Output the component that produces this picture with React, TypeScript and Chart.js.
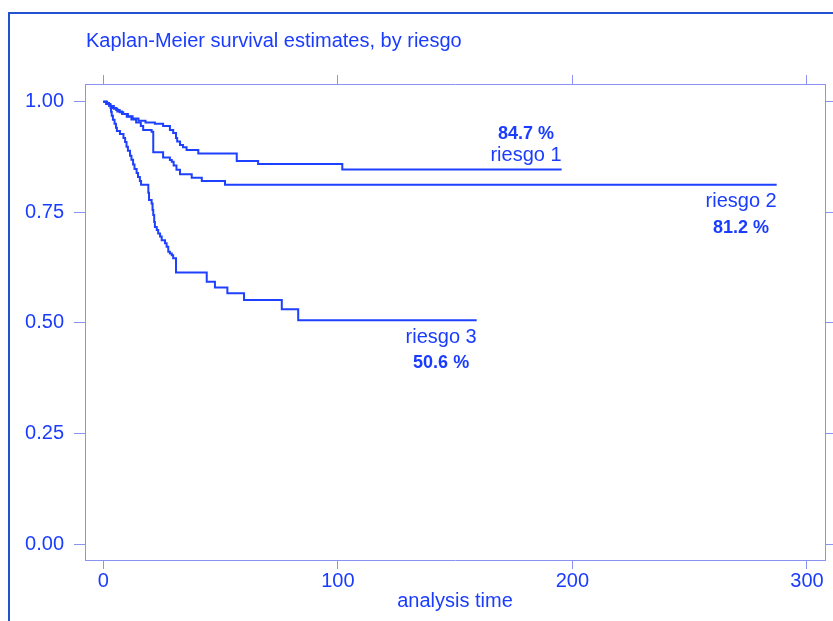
import React, { useEffect, useRef } from 'react';
import { Chart, registerables } from 'chart.js';

Chart.register(...registerables);

const TITLE = 'Kaplan-Meier survival estimates, by riesgo';
const X_TITLE = 'analysis time';
const X_TICKS = [0, 100, 200, 300];
const Y_TICKS = [0, 0.25, 0.5, 0.75, 1];
const X_MIN = -7.8;
const X_MAX = 307.7;
const Y_MIN = -0.036;
const Y_MAX = 1.04;

const GROUPS = ['riesgo 1', 'riesgo 2', 'riesgo 3'];

const TIME_1 = [0, 1.2, 2.5, 3.8, 5.5, 7, 8.5, 10.5, 12.5, 15, 18, 22, 25.5, 28.4, 29.8, 31, 31.5, 32.7, 34, 35.5, 40.5, 56.9, 66, 101.9, 195.4];
const SURV_1 = [1, 0.995, 0.99, 0.986, 0.981, 0.976, 0.972, 0.967, 0.962, 0.957, 0.953, 0.95, 0.945, 0.936, 0.929, 0.918, 0.91, 0.902, 0.897, 0.891, 0.883, 0.866, 0.859, 0.847, 0.847];

const TIME_2 = [0, 1.5, 3, 4.5, 6, 8, 10, 12, 14, 16, 17, 20.6, 21.3, 25.5, 28.4, 29.2, 30, 31.2, 32.7, 37.7, 42, 51.9, 287.1];
const SURV_2 = [1, 0.995, 0.99, 0.984, 0.978, 0.972, 0.966, 0.96, 0.953, 0.945, 0.936, 0.932, 0.886, 0.874, 0.868, 0.864, 0.856, 0.846, 0.836, 0.828, 0.821, 0.812, 0.812];

const TIME_3 = [0, 1.6, 2.4, 3.1, 3.3, 3.6, 4.1, 4.8, 5.4, 5.8, 7.1, 8.6, 9.3, 9.9, 10.5, 11.4, 12.0, 12.7, 13.3, 14.2, 14.8, 15.6, 16.1, 19.2, 19.5, 20.6, 21.0, 21.3, 21.7, 22.0, 22.8, 23.4, 24.2, 24.9, 26.3, 27.0, 27.7, 28.4, 29.2, 29.8, 31.0, 44.1, 47.6, 52.9, 60.0, 76.1, 83.1, 159.2];
const SURV_3 = [1, 0.997, 0.993, 0.986, 0.977, 0.968, 0.959, 0.95, 0.941, 0.934, 0.927, 0.918, 0.909, 0.898, 0.889, 0.878, 0.869, 0.858, 0.848, 0.839, 0.83, 0.821, 0.812, 0.794, 0.778, 0.77, 0.755, 0.744, 0.728, 0.717, 0.71, 0.702, 0.695, 0.687, 0.68, 0.672, 0.661, 0.657, 0.653, 0.646, 0.614, 0.593, 0.58, 0.567, 0.552, 0.531, 0.506, 0.506];

const TIMES = [TIME_1, TIME_2, TIME_3];
const SURVS = [SURV_1, SURV_2, SURV_3];
// label placement: 'above' or 'below' the end of each curve
const LABEL_SIDE = ['above', 'below', 'below'];

const TEXT = '#1a3cff';
const LINE = '#1e40ff';
const AXIS = '#8a92f4';
const FRAME = '#2352d0';
const FONT = "'Liberation Sans', Arial, sans-serif";

const decoPlugin = {
  id: 'deco',
  afterDraw(chart: any) {
    const ctx = chart.ctx;
    ctx.save();
    ctx.strokeStyle = FRAME;
    ctx.lineWidth = 2;
    ctx.strokeRect(9, 13, 900, 700);
    ctx.fillStyle = TEXT;
    ctx.font = `20px ${FONT}`;
    ctx.textAlign = 'left';
    ctx.textBaseline = 'alphabetic';
    ctx.fillText(TITLE, 86, 47);

    const xs = chart.scales.x;
    const ys = chart.scales.y;
    GROUPS.forEach((name, i) => {
      const t = TIMES[i];
      const s = SURVS[i];
      const last = s[s.length - 1];
      const px = xs.getPixelForValue(t[t.length - 1]);
      const py = ys.getPixelForValue(last);
      const pct = (last * 100).toFixed(1) + ' %';
      ctx.font = `20px ${FONT}`;
      const w = ctx.measureText(name).width;
      ctx.textAlign = 'right';
      ctx.textBaseline = 'middle';
      const above = LABEL_SIDE[i] === 'above';
      ctx.fillText(name, px, py + (above ? -14 : 17));
      ctx.font = `bold 18px ${FONT}`;
      ctx.textAlign = 'center';
      ctx.fillText(pct, px - w / 2, py + (above ? -35 : 43));
    });
    ctx.restore();
  },
};

export default function App() {
  const ref = useRef<HTMLCanvasElement>(null);
  useEffect(() => {
    if (!ref.current) return;
    const datasets = GROUPS.map((name, i) => ({
      label: name,
      data: TIMES[i].map((t, j) => ({ x: t, y: SURVS[i][j] })),
      borderColor: LINE,
      borderWidth: 2,
      pointRadius: 0,
      stepped: 'before' as const,
      fill: false,
      xAxisID: 'x',
      yAxisID: 'y',
    }));
    const tickFont = { family: FONT, size: 20 };
    const chart = new Chart(ref.current, {
      type: 'line',
      data: { datasets },
      options: {
        animation: false,
        responsive: false,
        devicePixelRatio: 1,
        layout: { padding: 0 },
        plugins: { legend: { display: false }, tooltip: { enabled: false }, title: { display: false } },
        scales: {
          x: {
            type: 'linear',
            position: 'bottom',
            min: X_MIN,
            max: X_MAX,
            afterBuildTicks: (s: any) => { s.ticks = X_TICKS.map((v) => ({ value: v })); },
            afterFit: (s: any) => { s.height = 61; },
            ticks: { color: TEXT, font: tickFont, padding: 0, maxRotation: 0, callback: (v: any) => String(v) },
            grid: { drawOnChartArea: false, tickLength: 9, color: AXIS, tickColor: AXIS },
            border: { color: AXIS, width: 1 },
            title: { display: true, text: X_TITLE, color: TEXT, font: { family: FONT, size: 20 }, padding: { top: 0, bottom: 8 } },
          },
          x2: {
            type: 'linear',
            position: 'top',
            min: X_MIN,
            max: X_MAX,
            afterBuildTicks: (s: any) => { s.ticks = X_TICKS.map((v) => ({ value: v })); },
            afterFit: (s: any) => { s.height = 84; },
            ticks: { display: false },
            grid: { drawOnChartArea: false, tickLength: 9, color: AXIS, tickColor: AXIS },
            border: { color: AXIS, width: 1 },
          },
          y: {
            type: 'linear',
            position: 'left',
            min: Y_MIN,
            max: Y_MAX,
            afterBuildTicks: (s: any) => { s.ticks = Y_TICKS.map((v) => ({ value: v })); },
            afterFit: (s: any) => { s.width = 85; },
            ticks: { color: TEXT, font: tickFont, padding: 10, callback: (v: any) => Number(v).toFixed(2) },
            grid: { drawOnChartArea: false, tickLength: 11, color: AXIS, tickColor: AXIS },
            border: { color: AXIS, width: 1 },
          },
          y2: {
            type: 'linear',
            position: 'right',
            min: Y_MIN,
            max: Y_MAX,
            afterBuildTicks: (s: any) => { s.ticks = Y_TICKS.map((v) => ({ value: v })); },
            afterFit: (s: any) => { s.width = 8; },
            ticks: { display: false },
            grid: { drawOnChartArea: false, tickLength: 9, color: AXIS, tickColor: AXIS },
            border: { color: AXIS, width: 1 },
          },
        },
      },
      plugins: [decoPlugin],
    });
    return () => chart.destroy();
  }, []);
  return (
    <div style={{ position: 'absolute', left: 0, top: 0, width: 833, height: 621, background: '#fff' }}>
      <canvas ref={ref} width={833} height={621} style={{ display: 'block' }} />
    </div>
  );
}
